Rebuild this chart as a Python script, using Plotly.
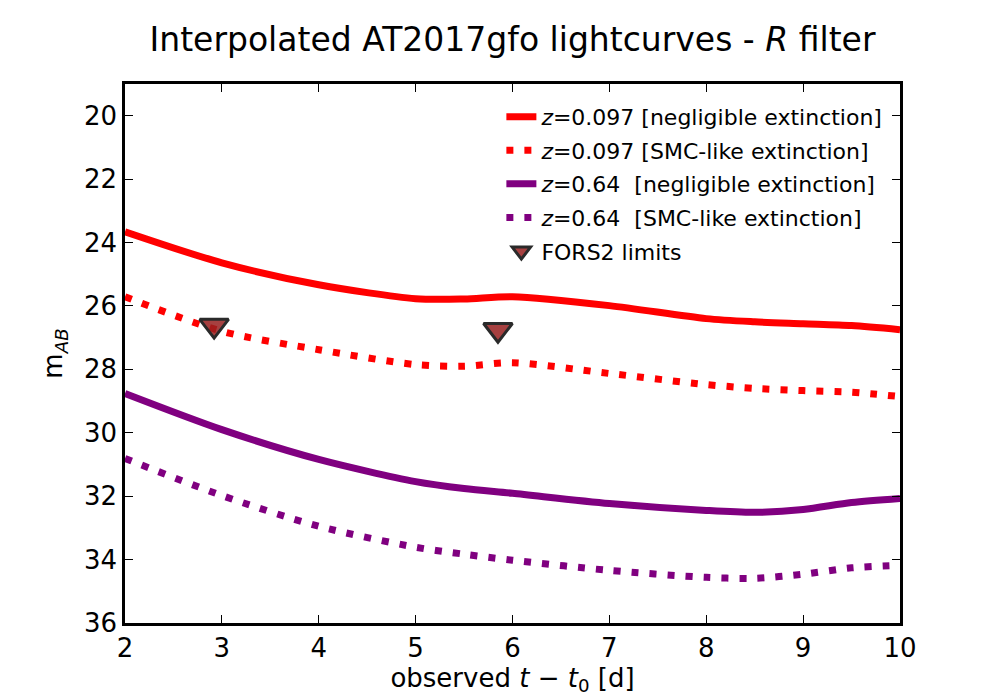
import plotly.graph_objects as go

# observed t - t0 [d]
days = [2, 3, 4, 5, 5.5, 6, 7, 8, 8.5, 9, 9.5, 10]

# interpolated R-band magnitudes
z0097_neg = [23.66, 24.64, 25.33, 25.77, 25.78, 25.71, 25.99, 26.40, 26.50, 26.56, 26.62, 26.75]
z0097_smc = [25.71, 26.80, 27.38, 27.85, 27.90, 27.79, 28.13, 28.48, 28.60, 28.67, 28.72, 28.86]
z064_neg = [28.76, 29.90, 30.84, 31.54, 31.76, 31.91, 32.23, 32.45, 32.51, 32.42, 32.20, 32.07]
z064_smc = [30.81, 31.98, 32.95, 33.61, 33.83, 34.02, 34.34, 34.56, 34.59, 34.46, 34.26, 34.18]

# FORS2 upper limits
fors2_t = [2.92, 5.85]
fors2_mag = [26.62, 26.75]

FONT = "DejaVu Sans"
RED = "#ff0000"
PURPLE = "#800080"
DOT = "7px,11px"

fig = go.Figure()

curves = [
    (z0097_neg, RED, "solid", "<i>z</i>=0.097 [negligible extinction]"),
    (z0097_smc, RED, DOT, "<i>z</i>=0.097 [SMC-like extinction]"),
    (z064_neg, PURPLE, "solid", "<i>z</i>=0.64  [negligible extinction]"),
    (z064_smc, PURPLE, DOT, "<i>z</i>=0.64  [SMC-like extinction]"),
]
for i, (mags, color, dash, name) in enumerate(curves):
    fig.add_trace(go.Scatter(
        x=days, y=mags, mode="lines", name=name, legendgroup=f"g{i}",
        line=dict(color=color, width=7, dash=dash, shape="spline", smoothing=0.8),
    ))

fig.add_trace(go.Scatter(
    x=fors2_t, y=fors2_mag, mode="markers", name="FORS2 limits", legendgroup="g4",
    marker=dict(symbol="triangle-down", size=25, color="rgba(150,30,30,0.85)",
                line=dict(color="#2a2a2a", width=3)),
))

axis_common = dict(
    showgrid=False, zeroline=False, showline=True, linecolor="black", linewidth=2.5,
    mirror="ticks", ticks="inside", ticklen=8, tickwidth=1.2, tickcolor="black",
    tickfont=dict(family=FONT, size=26, color="black"),
)

fig.update_xaxes(
    range=[2, 10], tick0=2, dtick=1,
    title=dict(text="observed <i>t</i> − <i>t</i><sub>0</sub> [d]",
               font=dict(family=FONT, size=26, color="black"), standoff=4),
    **axis_common,
)
fig.update_yaxes(
    range=[36, 19], tick0=20, dtick=2,
    title=dict(text="m<sub><i>AB</i></sub>",
               font=dict(family=FONT, size=26, color="black"), standoff=14),
    **axis_common,
)

fig.update_layout(
    width=1000, height=700,
    paper_bgcolor="white", plot_bgcolor="white",
    margin=dict(l=117, r=108, t=76, b=85),
    title=dict(text="Interpolated AT2017gfo lightcurves - <i>R</i> filter",
               font=dict(family=FONT, size=33, color="black"),
               x=0.5, xref="paper", xanchor="center", y=0.955, yanchor="middle"),
    legend=dict(x=0.985, y=0.978, xanchor="right", yanchor="top",
                traceorder="grouped", tracegroupgap=2,
                bgcolor="rgba(0,0,0,0)", borderwidth=0,
                font=dict(family=FONT, size=22, color="black")),
    font=dict(family=FONT),
)

fig.write_html("out.html")
